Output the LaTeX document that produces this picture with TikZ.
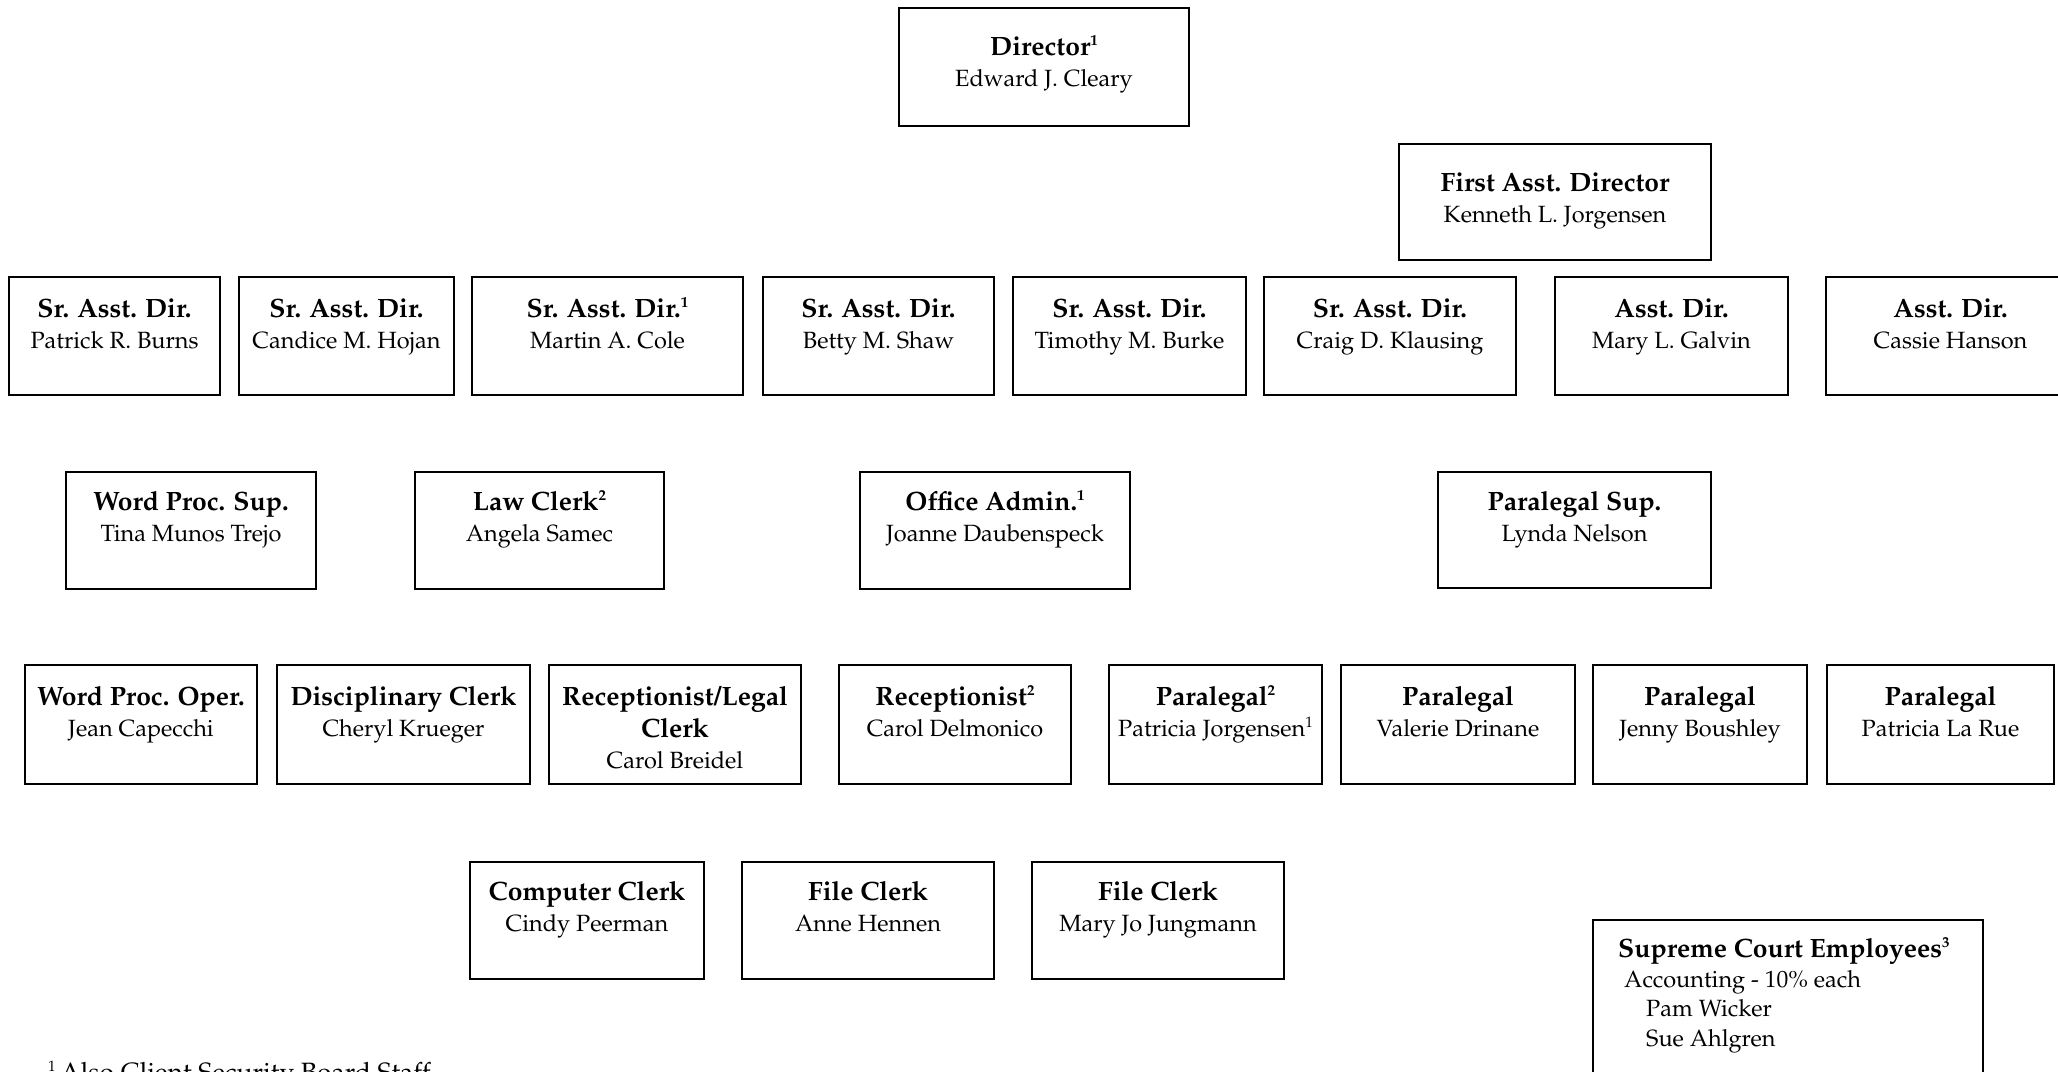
\documentclass[tikz,border=0pt]{standalone}
\usepackage[T1]{fontenc}
\usepackage{mathpazo}
\usetikzlibrary{fit}
\tikzset{
  orgbox/.style={draw, line width=2.6pt, inner sep=0pt},
  ttl/.style={font=\fontsize{26.5}{30}\selectfont\bfseries, anchor=base, inner sep=0pt},
  nm/.style={font=\fontsize{23.5}{28}\selectfont, anchor=base, inner sep=0pt},
  lft/.style={anchor=base west, inner sep=0pt},
  fnote/.style={font=\fontsize{26.5}{30}\selectfont, anchor=base west, inner sep=0pt},
}
\newcommand{\fnmark}[1]{\raisebox{0.75ex}{\fontsize{15}{15}\selectfont #1}}
% name, x1, y1, x2, y2, title centre y, title, person
\newcommand{\obox}[8]{%
  \node[orgbox, fit={(#2,#3) (#4,#5)}] (#1) {};
  \pgfmathsetmacro{\ocx}{(#2+#4)/2}%
  \pgfmathsetmacro{\oty}{#6+9}%
  \pgfmathsetmacro{\ony}{#6+40}%
  \node[ttl] (#1-t) at (\ocx,\oty) {#7};
  \node[nm] (#1-n) at (\ocx,\ony) {#8};
}
\begin{document}
\begin{tikzpicture}[x=1pt,y=-1pt]
\useasboundingbox (0,0) rectangle (2058,1071);

\obox{dir}{899}{8}{1189}{126}{46}{Director\fnmark{1}}{Edward J. Cleary}
\obox{fad}{1399}{144}{1711}{260}{182}{First Asst. Director}{Kenneth L. Jorgensen}

% row 1
\obox{r1a}{9}{277}{220}{395}{308}{Sr. Asst. Dir.}{Patrick R. Burns}
\obox{r1b}{239}{277}{454}{395}{308}{Sr. Asst. Dir.}{Candice M. Hojan}
\obox{r1c}{472}{277}{743}{395}{308}{Sr. Asst. Dir.\fnmark{1}}{Martin A. Cole}
\obox{r1d}{763}{277}{994}{395}{308}{Sr. Asst. Dir.}{Betty M. Shaw}
\obox{r1e}{1013}{277}{1246}{395}{308}{Sr. Asst. Dir.}{Timothy M. Burke}
\obox{r1f}{1264}{277}{1516}{395}{308}{Sr. Asst. Dir.}{Craig D. Klausing}
\obox{r1g}{1555}{277}{1788}{395}{308}{Asst. Dir.}{Mary L. Galvin}
\obox{r1h}{1826}{277}{2075}{395}{308}{Asst. Dir.}{Cassie Hanson}

% row 2
\obox{r2a}{66}{472}{316}{589}{501}{Word Proc. Sup.}{Tina Munos Trejo}
\obox{r2b}{415}{472}{664}{589}{501}{Law Clerk\fnmark{2}}{Angela Samec}
\obox{r2c}{860}{472}{1130}{589}{501}{Office Admin.\fnmark{1}}{Joanne Daubenspeck}
\obox{r2d}{1438}{472}{1711}{588}{501}{Paralegal Sup.}{Lynda Nelson}

% row 3
\obox{r3a}{25}{665}{257}{784}{696}{Word Proc. Oper.}{Jean Capecchi}
\obox{r3b}{277}{665}{530}{784}{696}{Disciplinary Clerk}{Cheryl Krueger}
\node[orgbox, fit={(549,665) (801,784)}] (r3c) {};
\node[ttl] (r3c-t) at (675,705) {Receptionist/Legal};
\node[ttl] (r3c-t2) at (675,737) {Clerk};
\node[nm] (r3c-n) at (675,768) {Carol Breidel};
\obox{r3d}{839}{665}{1071}{784}{696}{Receptionist\fnmark{2}}{Carol Delmonico}
\obox{r3e}{1109}{665}{1322}{784}{696}{Paralegal\fnmark{2}}{Patricia Jorgensen\fnmark{1}}
\obox{r3f}{1341}{665}{1575}{784}{696}{Paralegal}{Valerie Drinane}
\obox{r3g}{1593}{665}{1807}{784}{696}{Paralegal}{Jenny Boushley}
\obox{r3h}{1827}{665}{2054}{784}{696}{Paralegal}{Patricia La Rue}

% row 4
\obox{r4a}{470}{862}{704}{979}{891}{Computer Clerk}{Cindy Peerman}
\obox{r4b}{742}{862}{994}{979}{891}{File Clerk}{Anne Hennen}
\obox{r4c}{1032}{862}{1284}{979}{891}{File Clerk}{Mary Jo Jungmann}

% supreme court employees
\node[orgbox, fit={(1593,920) (1983,1090)}] (sce) {};
\node[ttl, lft] (sce-t) at (1618,957) {Supreme Court Employees\fnmark{3}};
\node[nm, lft] (sce-a) at (1624,987) {Accounting - 10\% each};
\node[nm, lft] (sce-p) at (1646,1016) {Pam Wicker};
\node[nm, lft] (sce-s) at (1646,1046) {Sue Ahlgren};

% footnote
\node[fnote] (fn) at (48,1081) {\fnmark{1}\,Also Client Security Board Staff};
\end{tikzpicture}
\end{document}
